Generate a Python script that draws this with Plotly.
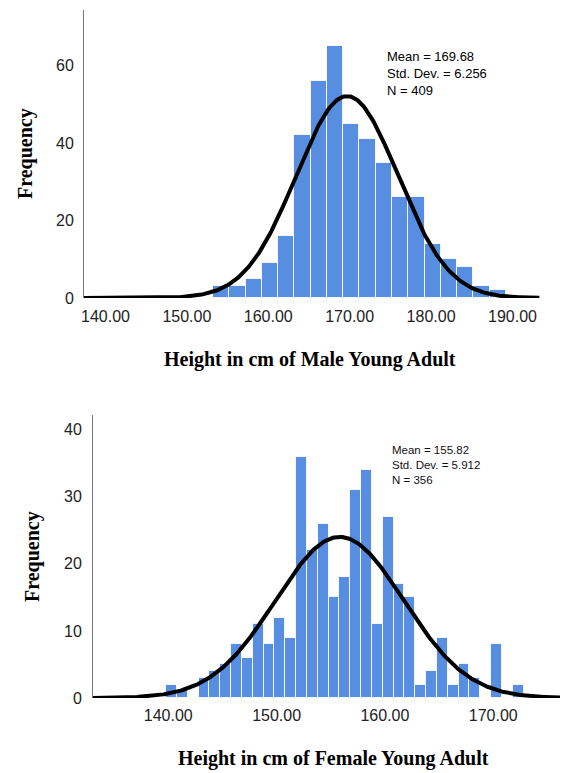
import numpy as np
import plotly.graph_objects as go

# ---------------- data ----------------
male_bin_start = [153.2, 155.2, 157.2, 159.2, 161.2, 163.2, 165.2, 167.2, 169.2,
                  171.2, 173.2, 175.2, 177.2, 179.2, 181.2, 183.2, 185.2, 187.2]
male_counts = [3, 3, 5, 9, 16, 42, 56, 65, 45, 41, 35, 26, 26, 14, 10, 8, 3, 2]
male_bin_width = 2.0
male_mean, male_sd, male_n = 169.68, 6.256, 409

female_bin_start = [139.8 + i for i in range(33)]
female_counts = [2, 1, 0, 3, 4, 5, 8, 6, 11, 8, 12, 9, 36, 22, 26, 15, 18, 31, 34,
                 11, 27, 17, 15, 2, 4, 9, 2, 5, 3, 0, 8, 0, 2]
female_bin_width = 1.0
female_mean, female_sd, female_n = 155.82, 5.912, 356

male_xticks = [140, 150, 160, 170, 180, 190]
male_yticks = [0, 20, 40, 60]
female_xticks = [140, 150, 160, 170]
female_yticks = [0, 10, 20, 30, 40]

# ---------------- layout helpers ----------------
# the page body adds an 8px offset; the figure is sized to fit the window
OX, OY = 8, 8
W, H = 570 - OX, 773 - OY
def px(x):
    return (x - OX) / W
def py(y):
    return 1 - (y - OY) / H

BAR = "rgb(88,142,226)"
TICKFONT = dict(family="Liberation Sans, Arial", size=16, color="#222")
TITLEFONT = dict(family="Liberation Serif, Times New Roman", size=20, color="black")

def normal_curve(xmin, xmax, mean, sd, n, bw):
    xs = np.linspace(xmin, xmax, 400)
    ys = n * bw / (sd * np.sqrt(2 * np.pi)) * np.exp(-0.5 * ((xs - mean) / sd) ** 2)
    return xs, ys

fig = go.Figure()

m_x = [s + male_bin_width / 2 for s in male_bin_start]
fig.add_trace(go.Bar(x=m_x, y=male_counts, width=male_bin_width,
                     marker=dict(color=BAR, line=dict(color="rgba(255,255,255,0.85)", width=1)),
                     xaxis="x", yaxis="y", showlegend=False))
mr = [137.36, 193.38]
cx, cy = normal_curve(mr[0], 193.3, male_mean, male_sd, male_n, male_bin_width)
fig.add_trace(go.Scatter(x=cx, y=cy, mode="lines", line=dict(color="black", width=4),
                         xaxis="x", yaxis="y", showlegend=False))

f_x = [s + female_bin_width / 2 for s in female_bin_start]
fig.add_trace(go.Bar(x=f_x, y=female_counts, width=female_bin_width,
                     marker=dict(color=BAR, line=dict(color="rgba(255,255,255,0.85)", width=1)),
                     xaxis="x2", yaxis="y2", showlegend=False))
fr = [133.05, 176.16]
cx2, cy2 = normal_curve(fr[0], fr[1], female_mean, female_sd, female_n, female_bin_width)
fig.add_trace(go.Scatter(x=cx2, y=cy2, mode="lines", line=dict(color="black", width=4),
                         xaxis="x2", yaxis="y2", showlegend=False))

axis_common = dict(showgrid=False, zeroline=False, ticks="", tickfont=TICKFONT)

fig.update_layout(
    width=W, height=H,
    margin=dict(l=0, r=0, t=0, b=0, autoexpand=False),
    paper_bgcolor="white", plot_bgcolor="white",
    bargap=0,
    xaxis=dict(domain=[px(84), px(540)], range=mr, tickvals=male_xticks,
               ticktext=[f"{v:.2f}" for v in male_xticks], anchor="y",
               showline=False, ticklabelstandoff=7, **axis_common),
    yaxis=dict(domain=[py(298), py(10)], range=[0, 74.4], tickvals=male_yticks,
               anchor="x", showline=True, linecolor="#777", linewidth=1,
               ticklabelstandoff=6, **axis_common),
    xaxis2=dict(domain=[px(93), px(560)], range=fr, tickvals=female_xticks,
                ticktext=[f"{v:.2f}" for v in female_xticks], anchor="y2",
                showline=False, ticklabelstandoff=6, **axis_common),
    yaxis2=dict(domain=[py(698), py(415)], range=[0, 42.2], tickvals=female_yticks,
                anchor="x2", showline=True, linecolor="#777", linewidth=1,
                ticklabelstandoff=7, **axis_common),
)

ann = []
def txt(x, y, s, font, xanchor="center", yanchor="middle", **kw):
    ann.append(dict(x=px(x), y=py(y), xref="paper", yref="paper", text=s,
                    showarrow=False, font=font, xanchor=xanchor, yanchor=yanchor, **kw))

TF = dict(TITLEFONT)
txt(310, 360, "<b>Height in cm of Male Young Adult</b>", TF)
txt(333, 758, "<b>Height in cm of Female Young Adult</b>", TF)
txt(25, 154, "<b>Frequency</b>", TF, textangle=-90)
txt(32, 557, "<b>Frequency</b>", TF, textangle=-90)

SF1 = dict(family="Liberation Sans, Arial", size=13, color="black")
txt(385, 73, f"Mean = {male_mean:.2f}<br>Std. Dev. = {male_sd:.3f}<br>N = {male_n}",
    SF1, xanchor="left", align="left")

SF2 = dict(family="Liberation Sans, Arial", size=11.5, color="#111")
txt(390, 465, f"Mean = {female_mean:.2f}<br>Std. Dev. = {female_sd:.3f}<br>N = {female_n}",
    SF2, xanchor="left", align="left")

fig.update_layout(annotations=ann)
fig.write_html("out.html")
